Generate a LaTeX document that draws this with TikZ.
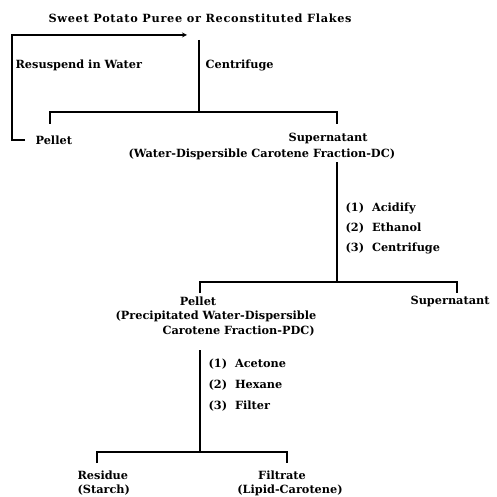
\documentclass[tikz,border=0pt]{standalone}
\usepackage{fontspec}
\setmainfont{DejaVu Serif}
\newfontfamily\spacedfont{DejaVu Serif}[LetterSpace=6]
\usepackage{tikz}

\begin{document}
\begin{tikzpicture}[x=1pt, y=-1pt, line width=1.2pt,
    every node/.style={anchor=west, inner sep=0pt, font=\fontsize{11.3}{13}\selectfont\bfseries}]
    \useasboundingbox (0,0) rectangle (496,497);
    \node [font=\fontsize{11.3}{13}\spacedfont\bfseries] (title) at (48,18) {Sweet Potato Puree or Reconstituted Flakes};
    \node (resusp) at (15,65) {Resuspend in Water};
    \node (cent1) at (205,65) {Centrifuge};
    \node (pellet1) at (35,140) {Pellet};
    \node (super1) at (288,138) {Supernatant};
    \node (dc) at (128,154) {(Water-Dispersible Carotene Fraction-DC)};
    \node (acid) at (345,208) {(1)\ \ Acidify};
    \node (eth) at (345,228) {(2)\ \ Ethanol};
    \node (cent2) at (345,248) {(3)\ \ Centrifuge};
    \node [anchor=center] (pellet2) at (198,301) {Pellet};
    \node (pdc1) at (115,316) {(Precipitated Water-Dispersible};
    \node (pdc2) at (162,331) {Carotene Fraction-PDC)};
    \node (super2) at (410,301) {Supernatant};
    \node (acet) at (208,364) {(1)\ \ Acetone};
    \node (hex) at (208,385) {(2)\ \ Hexane};
    \node (filt) at (208,406) {(3)\ \ Filter};
    \node (resid) at (77,475) {Residue};
    \node (starch) at (77,490) {(Starch)};
    \node [anchor=center] (filtr) at (282,475) {Filtrate};
    \node [anchor=center] (lipid) at (290,490) {(Lipid-Carotene)};
    \coordinate (a0) at (25,140);
    \coordinate (a1) at (12,35);
    \coordinate (a2) at (187,35);
    \coordinate (b0) at (199,40);
    \coordinate (b1) at (199,112);
    \coordinate (b2) at (50,112);
    \coordinate (b3) at (337,112);
    \coordinate (b4) at (50,124);
    \coordinate (b5) at (337,124);
    \coordinate (c0) at (337,162);
    \coordinate (c1) at (337,282);
    \coordinate (c2) at (200,282);
    \coordinate (c3) at (457,282);
    \coordinate (c4) at (200,293);
    \coordinate (c5) at (457,293);
    \coordinate (d0) at (200,350);
    \coordinate (d1) at (200,452);
    \coordinate (d2) at (97,452);
    \coordinate (d3) at (287,452);
    \coordinate (d4) at (97,463);
    \coordinate (d5) at (287,463);
    \draw [-stealth] (a0) -| (a1) -- (a2);
    \draw (b0) -- (b1);
    \draw (b4) -- (b2) -- (b3) -- (b5);
    \draw (c0) -- (c1);
    \draw (c4) -- (c2) -- (c3) -- (c5);
    \draw (d0) -- (d1);
    \draw (d4) -- (d2) -- (d3) -- (d5);
  \end{tikzpicture}
\end{document}
